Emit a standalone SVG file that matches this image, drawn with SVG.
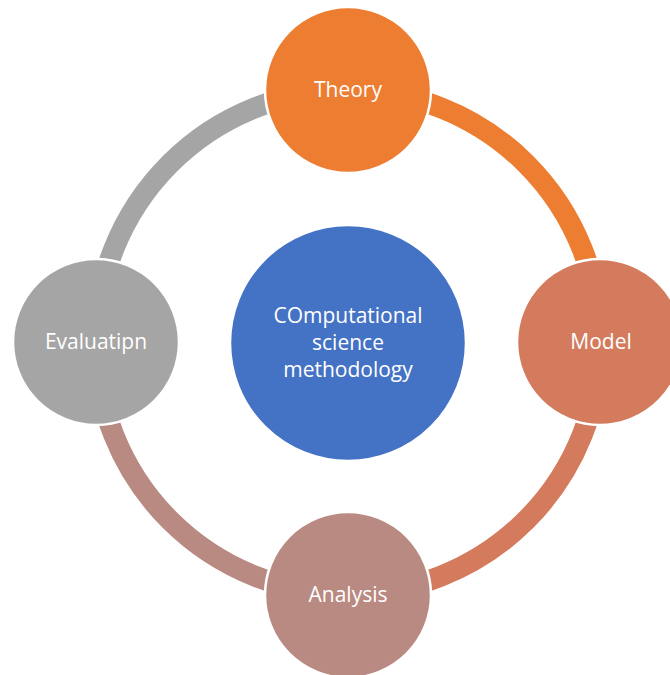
<svg xmlns="http://www.w3.org/2000/svg" width="670" height="675" viewBox="0 0 670 675">
<style>
.arc{fill:none;stroke-width:21;stroke-linecap:butt}
.node{stroke:#ffffff;stroke-width:2.5}
.lbl{fill:#ffffff;font-family:"Open Sans","Liberation Sans",sans-serif;font-size:21px;text-anchor:middle}
.clbl{fill:#ffffff;font-family:"Open Sans","Liberation Sans",sans-serif;font-size:21px;text-anchor:middle}
</style>
<rect width="670" height="675" fill="#ffffff"/>
<g id="connectors">
<path class="arc" stroke="#ED7D31" d="M348,90 A252,252 0 0 1 600,342"/>
<path class="arc" stroke="#D37B5C" d="M600,342 A252,252 0 0 1 348,594"/>
<path class="arc" stroke="#B98A81" d="M348,594 A252,252 0 0 1 96,342"/>
<path class="arc" stroke="#A5A5A5" d="M96,342 A252,252 0 0 1 348,90"/>
</g>
<g id="center">
<circle class="node" cx="348" cy="343" r="118" fill="#4472C4"/>
<text class="clbl" x="348" y="323">COmputational</text>
<text class="clbl" x="348" y="350">science</text>
<text class="clbl" x="348" y="377">methodology</text>
</g>
<g id="theory">
<circle class="node" cx="348" cy="90" r="83" fill="#ED7D31"/>
<text class="lbl" x="348" y="97">Theory</text>
</g>
<g id="model">
<circle class="node" cx="600" cy="342" r="83" fill="#D37B5C"/>
<text class="lbl" x="601" y="349">Model</text>
</g>
<g id="analysis">
<circle class="node" cx="348" cy="595" r="83" fill="#B98A81"/>
<text class="lbl" x="348" y="602">Analysis</text>
</g>
<g id="evaluation">
<circle class="node" cx="96" cy="342" r="83" fill="#A5A5A5"/>
<text class="lbl" x="96" y="349">Evaluatipn</text>
</g>
</svg>
